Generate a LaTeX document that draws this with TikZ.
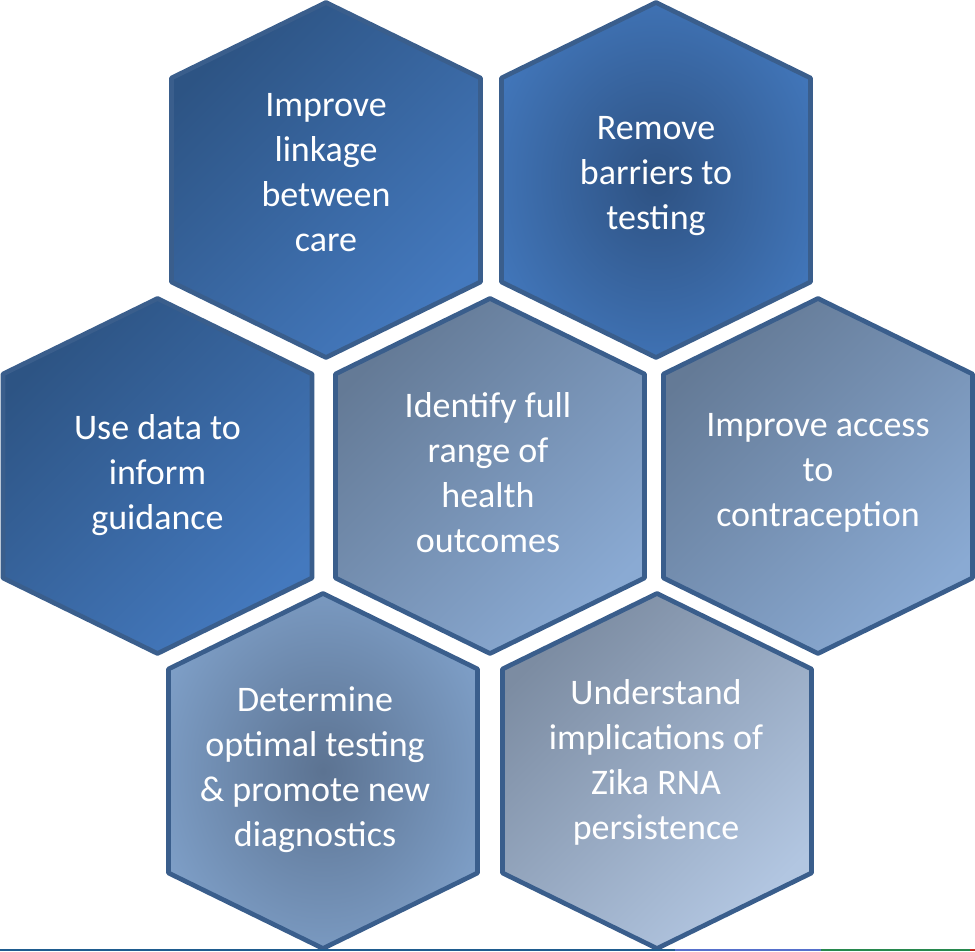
\documentclass[tikz,border=0pt]{standalone}
\usepackage{fontspec}
\setmainfont{Carlito}

% Radial glows for the two centred-shade cells
\pgfdeclareradialshading{glowdeep}{\pgfpoint{0bp}{0bp}}{%
  rgb(0bp)=(0.18,0.32,0.51); rgb(30bp)=(0.26,0.47,0.74); rgb(50bp)=(0.26,0.47,0.74)}
\pgfdeclareradialshading{glowpale}{\pgfpoint{0bp}{0bp}}{%
  rgb(0bp)=(0.36,0.45,0.57); rgb(30bp)=(0.50,0.63,0.79); rgb(50bp)=(0.50,0.63,0.79)}

\begin{document}
\begin{tikzpicture}[x=0.75pt, y=0.75pt,
    hexline/.style={draw=hexedge, line width=3.5pt, line join=round},
    deep/.style={top color=deepA, bottom color=deepB, shading angle=45},
    mid/.style={top color=midA, bottom color=midB, shading angle=45},
    pale/.style={top color=paleA, bottom color=paleB, shading angle=45},
    deepglow/.style={shade, shading=glowdeep},
    midglow/.style={shade, shading=glowpale},
    hextext/.style={text=white, align=center, inner sep=0pt,
      font=\fontsize{27}{33.75}\selectfont}]
    % Define cell colours
    \definecolor{hexedge}{RGB}{58,94,140}
    \definecolor{deepA}{RGB}{45,84,132}
    \definecolor{deepB}{RGB}{68,121,190}
    \definecolor{midA}{RGB}{100,122,150}
    \definecolor{midB}{RGB}{138,170,211}
    \definecolor{paleA}{RGB}{124,140,162}
    \definecolor{paleB}{RGB}{178,198,225}
    \definecolor{footblue}{RGB}{31,92,143}
    \definecolor{footviolet}{RGB}{86,112,204}
    \definecolor{footgreen}{RGB}{40,136,78}
    \definecolor{footred}{RGB}{196,48,40}

    \useasboundingbox (0,0) rectangle (975,952);

    % Honeycomb cells
    \foreach \n/\x/\y/\tx/\ty/\look/\txt in {
        linkage/326/772/326/779/deep/{Improve\\linkage\\between\\care},
        barriers/656/772/656/776/deepglow/{Remove\\barriers to\\testing},
        guidance/157.5/476/157.5/477/deep/{Use data to\\inform\\guidance},
        outcomes/490/476/488/479/mid/{Identify full\\range of\\health\\outcomes},
        access/818/476/818/479/mid/{Improve access\\to\\contraception},
        diagnostics/323/181/315/182/midglow/{Determine\\optimal testing\\\& promote new\\diagnostics},
        persistence/657/181/656/190/pale/{Understand\\implications of\\Zika RNA\\persistence}} {
        \path[hexline, \look] (\x,\y+177.5) -- ++(154.5,-75.5) -- ++(0,-204)
            -- ++(-154.5,-75.5) -- ++(-154.5,75.5) -- ++(0,204) -- cycle;
        \node[hextext] (\n) at (\tx,\ty) {\txt};
    }

    % Footer rule
    \draw[footblue, line width=1.5pt] (0,1.5) -- (675,1.5);
    \draw[footviolet, line width=1.5pt] (675,1.5) -- (821,1.5);
    \draw[footgreen, line width=1.5pt] (821,1.5) -- (970,1.5);
    \draw[footred, line width=1.5pt] (970,1.5) -- (975,1.5);
\end{tikzpicture}
\end{document}
